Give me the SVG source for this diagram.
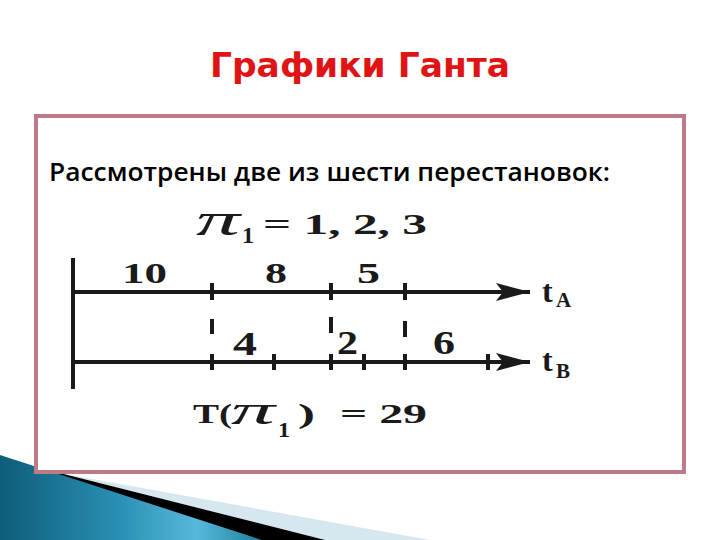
<svg xmlns="http://www.w3.org/2000/svg" width="720" height="540" viewBox="0 0 720 540">
  <defs>
    <linearGradient id="teal" x1="0" y1="0" x2="1" y2="0">
      <stop offset="0" stop-color="#0d5d78"/>
      <stop offset="0.45" stop-color="#2a8fb4"/>
      <stop offset="0.75" stop-color="#56b9dc"/>
      <stop offset="1" stop-color="#1f7e9e"/>
    </linearGradient>
    <marker id="arrow" markerUnits="userSpaceOnUse" markerWidth="36" markerHeight="20" refX="34" refY="9" orient="auto">
      <path d="M0,0 L34,9 L0,18 L7,9 Z" fill="#1a1a1a"/>
    </marker>
    <style>
      .title { font-family: "DejaVu Sans", "Liberation Sans", sans-serif; font-size: 34px; font-weight: bold; fill: #e01414; }
      .sub { font-family: "Open Sans", "DejaVu Sans", sans-serif; font-size: 25px; font-weight: 600; fill: #000; }
      .math { font-family: "Liberation Serif", "DejaVu Serif", serif; font-weight: bold; fill: #1a1a1a; }
      .pi { font-family: "Liberation Serif", "DejaVu Serif", serif; font-style: italic; font-weight: normal; fill: #1a1a1a; }
      .axis { stroke: #1a1a1a; stroke-width: 4; fill: none; }
      .tick { stroke: #1a1a1a; stroke-width: 4; }
    </style>
  </defs>

  <rect x="0" y="0" width="720" height="540" fill="#ffffff"/>

  <!-- bottom-left decoration -->
  <g id="decoration">
    <polygon points="20,466 430,540 0,540" fill="#d6e7ef"/>
    <polygon points="20,463 325,540 0,540" fill="#000000"/>
    <polygon points="0,455 262,540 0,540" fill="url(#teal)"/>
  </g>

  <!-- frame -->
  <g id="frame">
    <rect x="36" y="116" width="648" height="356" fill="#ffffff" stroke="#bd7b88" stroke-width="4"/>
  </g>

  <g id="title">
    <text class="title" x="210" y="77" textLength="300" lengthAdjust="spacingAndGlyphs">Графики Ганта</text>
  </g>

  <g id="subtitle">
    <text class="sub" x="49" y="181" textLength="561" lengthAdjust="spacingAndGlyphs">Рассмотрены две из шести перестановок:</text>
  </g>

  <g id="permutation">
    <text class="pi" x="196" y="235" font-size="46" textLength="44" lengthAdjust="spacingAndGlyphs">π</text>
    <text class="math" x="242" y="243" font-size="24" textLength="12" lengthAdjust="spacingAndGlyphs">1</text>
    <text class="math" x="263" y="234" font-size="30" textLength="164" lengthAdjust="spacingAndGlyphs">= 1, 2, 3</text>
  </g>

  <g id="connectors">
    <line class="axis" x1="73" y1="258" x2="73" y2="389" stroke-width="5"/>
    <line class="axis" x1="71" y1="292" x2="530" y2="292" marker-end="url(#arrow)"/>
    <line class="axis" x1="71" y1="362" x2="530" y2="362" marker-end="url(#arrow)"/>
    <!-- ticks on A -->
    <line class="tick" x1="212" y1="283" x2="212" y2="300"/>
    <line class="tick" x1="331" y1="283" x2="331" y2="300"/>
    <line class="tick" x1="405" y1="283" x2="405" y2="300"/>
    <!-- dashes between -->
    <line class="tick" x1="212" y1="319" x2="212" y2="334"/>
    <line class="tick" x1="331" y1="317" x2="331" y2="333"/>
    <line class="tick" x1="405" y1="321" x2="405" y2="337"/>
    <!-- ticks on B -->
    <line class="tick" x1="212" y1="354" x2="212" y2="370"/>
    <line class="tick" x1="274" y1="354" x2="274" y2="370"/>
    <line class="tick" x1="331" y1="354" x2="331" y2="370"/>
    <line class="tick" x1="364" y1="354" x2="364" y2="370"/>
    <line class="tick" x1="405" y1="354" x2="405" y2="370"/>
    <line class="tick" x1="488" y1="354" x2="488" y2="370"/>
  </g>

  <g id="labelsA">
    <text class="math" x="122" y="283" font-size="30" textLength="45" lengthAdjust="spacingAndGlyphs">10</text>
    <text class="math" x="265" y="283" font-size="30" textLength="22" lengthAdjust="spacingAndGlyphs">8</text>
    <text class="math" x="357" y="283" font-size="30" textLength="23" lengthAdjust="spacingAndGlyphs">5</text>
    <text class="math" x="542" y="302" font-size="32">t</text>
    <text class="math" x="556" y="307" font-size="21">A</text>
  </g>

  <g id="labelsB">
    <text class="math" x="233" y="355" font-size="33" textLength="24" lengthAdjust="spacingAndGlyphs">4</text>
    <text class="math" x="337" y="354" font-size="33" textLength="21" lengthAdjust="spacingAndGlyphs">2</text>
    <text class="math" x="433" y="354" font-size="33" textLength="22" lengthAdjust="spacingAndGlyphs">6</text>
    <text class="math" x="542" y="371" font-size="32">t</text>
    <text class="math" x="556" y="378" font-size="21">B</text>
  </g>

  <g id="result">
    <text class="math" x="193" y="423" font-size="27" textLength="39" lengthAdjust="spacingAndGlyphs">T(</text>
    <text class="pi" x="231" y="424" font-size="42" textLength="44" lengthAdjust="spacingAndGlyphs">π</text>
    <text class="math" x="278" y="437" font-size="22" textLength="12" lengthAdjust="spacingAndGlyphs">1</text>
    <text class="math" x="298" y="423" font-size="27" textLength="17" lengthAdjust="spacingAndGlyphs">)</text>
    <text class="math" x="340" y="423" font-size="27" textLength="87" lengthAdjust="spacingAndGlyphs">= 29</text>
  </g>
</svg>
